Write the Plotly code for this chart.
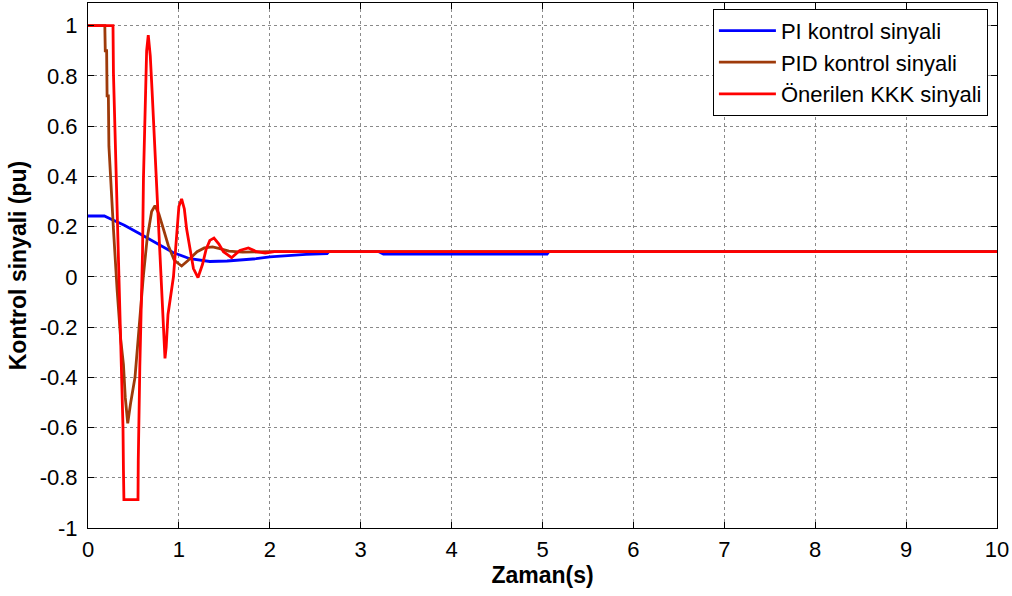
import plotly.graph_objects as go

# PI kontrol sinyali
pi_t = [0, 0.18, 0.25, 0.4, 0.57, 0.75, 0.935, 1.12, 1.34, 1.53, 1.67, 1.85, 2.0, 2.2, 2.4, 2.63, 2.65, 3.2, 3.25, 5.05, 5.07, 10]
pi_y = [0.242, 0.242, 0.23, 0.205, 0.171, 0.135, 0.097, 0.072, 0.061, 0.063, 0.066, 0.072, 0.079, 0.085, 0.089, 0.092, 0.1, 0.1, 0.09, 0.09, 0.1, 0.1]

# PID kontrol sinyali
pid_t = [0, 0.185, 0.19, 0.205, 0.21, 0.224, 0.23, 0.24, 0.26, 0.28, 0.32, 0.36, 0.39, 0.41, 0.437,
         0.46, 0.47, 0.517, 0.56, 0.608, 0.65, 0.70, 0.737, 0.78, 0.83, 0.883, 0.95, 1.03, 1.1, 1.2,
         1.28, 1.37, 1.45, 1.55, 1.7, 2.0, 10]
pid_y = [1, 1, 0.9, 0.9, 0.72, 0.72, 0.52, 0.45, 0.3, 0.19, -0.05, -0.25, -0.35, -0.48, -0.583,
         -0.52, -0.5, -0.4, -0.2, 0.0, 0.15, 0.26, 0.283, 0.25, 0.19, 0.125, 0.065, 0.043, 0.065, 0.1,
         0.115, 0.119, 0.112, 0.102, 0.098, 0.1, 0.1]

# Önerilen KKK sinyali
kkk_t = [0, 0.275, 0.28, 0.30, 0.32, 0.35, 0.37, 0.385, 0.39, 0.395, 0.55, 0.553, 0.57, 0.6, 0.61,
         0.625, 0.635, 0.645, 0.663, 0.685, 0.705, 0.725, 0.75, 0.77, 0.81, 0.835, 0.847, 0.86, 0.88,
         0.94, 0.976, 1.0, 1.03, 1.06, 1.085, 1.16, 1.21, 1.26, 1.3, 1.34, 1.386, 1.44, 1.49, 1.58,
         1.67, 1.764, 1.855, 1.95, 2.05, 10]
kkk_y = [1, 1, 0.81, 0.55, 0.35, -0.1, -0.4, -0.6, -0.77, -0.887, -0.887, -0.73, -0.36, 0.1, 0.39,
         0.6, 0.77, 0.9, 0.962, 0.88, 0.74, 0.59, 0.42, 0.3, 0.0, -0.22, -0.325, -0.28, -0.15,
         0.0, 0.19, 0.28, 0.31, 0.27, 0.19, 0.033, -0.003, 0.05, 0.11, 0.145, 0.154, 0.13, 0.1, 0.076,
         0.105, 0.115, 0.1, 0.094, 0.1, 0.1]

x_ticks = [0, 1, 2, 3, 4, 5, 6, 7, 8, 9, 10]
y_ticks = [-1, -0.8, -0.6, -0.4, -0.2, 0, 0.2, 0.4, 0.6, 0.8, 1]
y_tick_text = ["-1", "-0.8", "-0.6", "-0.4", "-0.2", "0", "0.2", "0.4", "0.6", "0.8", "1"]

FONT = "Liberation Sans, Arial, sans-serif"

fig = go.Figure()
fig.add_trace(go.Scatter(x=pi_t, y=pi_y, mode="lines", name="PI kontrol sinyali",
                         line=dict(color="#0000FF", width=2.8)))
fig.add_trace(go.Scatter(x=pid_t, y=pid_y, mode="lines", name="PID kontrol sinyali",
                         line=dict(color="#9E3A0A", width=2.8)))
fig.add_trace(go.Scatter(x=kkk_t, y=kkk_y, mode="lines", name="Önerilen KKK sinyali",
                         line=dict(color="#FF0000", width=2.8)))

axis_common = dict(
    showline=True, linecolor="black", linewidth=1, mirror="ticks",
    ticks="inside", ticklen=6, tickcolor="black", tickwidth=1,
    showgrid=True, gridcolor="#8a8a8a", griddash="dot", gridwidth=1,
    zeroline=False, tickfont=dict(family=FONT, size=22, color="black"),
)

fig.update_xaxes(range=[0, 10], tickvals=x_ticks, ticktext=[str(v) for v in x_ticks],
                 title=dict(text="<b>Zaman(s)</b>", font=dict(family=FONT, size=23, color="black"), standoff=3),
                 ticklabelstandoff=2, **axis_common)
fig.update_yaxes(range=[-1, 1.09], tickvals=y_ticks, ticktext=y_tick_text,
                 title=dict(text="<b>Kontrol sinyali (pu)</b>", font=dict(family=FONT, size=23, color="black"), standoff=6),
                 ticklabelstandoff=5, **axis_common)

fig.update_layout(
    width=1012, height=596,
    margin=dict(l=88, r=15, t=3, b=68),
    paper_bgcolor="white", plot_bgcolor="white",
    font=dict(family=FONT, color="black"),
    legend=dict(x=0.99, y=0.989, xanchor="right", yanchor="top",
                bgcolor="white", bordercolor="black", borderwidth=1,
                font=dict(family=FONT, size=22, color="black"),
                itemwidth=57, tracegroupgap=0),
    showlegend=True,
)

fig.write_html("out.html")
